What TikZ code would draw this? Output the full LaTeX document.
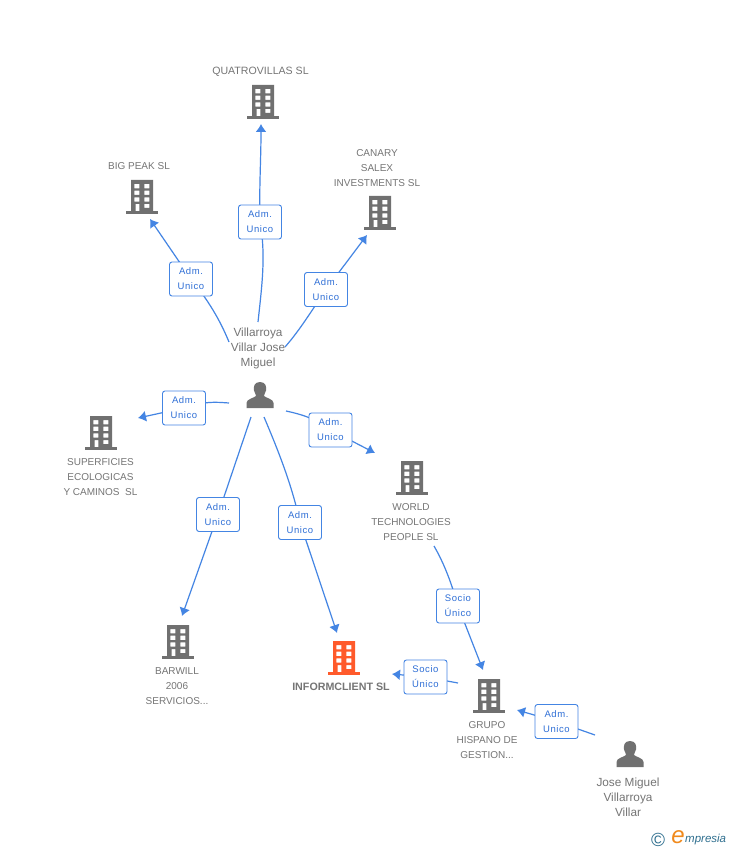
\documentclass[tikz,border=0pt]{standalone}
\usepackage{fontspec}
\setmainfont{Liberation Sans}
\newfontfamily\lblfont[LetterSpace=6]{Liberation Sans}
\usetikzlibrary{arrows.meta,backgrounds}
\definecolor{edgeblue}{HTML}{4485E3}
\definecolor{lbltext}{HTML}{2F6FD6}
\definecolor{icongrey}{HTML}{707070}
\definecolor{txtgrey}{HTML}{757575}
\definecolor{hot}{HTML}{FF5A2B}
\definecolor{logoteal}{HTML}{2F6F8F}
\definecolor{logoorange}{HTML}{F08A1D}
\tikzset{
  tag/.style={draw=edgeblue,line width=0.9pt,fill=white,rounded corners=2.5pt,minimum width=43pt,minimum height=34pt,inner sep=0pt,align=center,text=lbltext,font=\lblfont\fontsize{9.5}{15}\selectfont},
  cap text/.style={text=txtgrey,align=center,inner sep=0pt,font=\fontsize{10}{15}\selectfont},
  cap mixed/.style={cap text,font=\fontsize{11.8}{15}\selectfont},
  edge seg/.style={draw=edgeblue,line width=1.2pt},
  edge tip/.style={draw=edgeblue,line width=1.2pt,-{Latex[length=8pt,width=11pt]}}
}
\newcommand{\bldg}[3][icongrey]{%
  \begin{scope}[shift={(#2)}]
    \coordinate (#3) at (0,0);
    \fill[#1,even odd rule] (-11,-17) rectangle (11,15)
      (-7.6,-13) rectangle (-2.6,-8.7) (2.4,-13) rectangle (7.4,-8.7)
      (-7.6,-6.3) rectangle (-2.6,-2) (2.4,-6.3) rectangle (7.4,-2)
      (-7.6,0.3) rectangle (-2.6,4.7) (2.4,0.3) rectangle (7.4,4.7)
      (-6.5,7) rectangle (-2.6,15) (2.4,7) rectangle (7.4,11);
    \fill[#1] (-16,14) rectangle (16,17);
  \end{scope}}
\newcommand{\persona}[2]{%
  \begin{scope}[shift={(#1)}]
    \coordinate (#2) at (0,0);
    \fill[icongrey] (0,-13) .. controls (6,-13) and (6.5,-8) .. (6,-4.5)
      .. controls (5.5,-1.5) and (3.5,-0.5) .. (4,1) .. controls (6,3) and (13.5,4) .. (13.5,8)
      .. controls (13.5,10) and (13.5,12) .. (13.5,13) -- (-13.5,13)
      .. controls (-13.5,12) and (-13.5,10) .. (-13.5,8)
      .. controls (-13.5,4) and (-6,3) .. (-4,1) .. controls (-3.5,-0.5) and (-5.5,-1.5) .. (-6,-4.5)
      .. controls (-6.5,-8) and (-6,-13) .. (0,-13) -- cycle;
  \end{scope}}
\begin{document}
\begin{tikzpicture}[x=1pt,y=-1pt]
\useasboundingbox (0,0) rectangle (728,850);
\begin{scope}[on background layer]
  \fill[white] (0,0) rectangle (728,850);
\end{scope}
% buildings and persons
\bldg{263,102}{quatro}
\bldg{142,197}{bigpeak}
\bldg{380,213}{canary}
\bldg{101,433}{superf}
\bldg{412,478}{world}
\bldg{178,642}{barwill}
\bldg[hot]{344,658}{inform}
\bldg{489,696}{grupo}
\persona{260,395}{villar}
\persona{630,754}{jose}
% captions
\node[cap text,font=\fontsize{10.6}{15}\selectfont] (tquatro) at (260.5,71.5) {QUATROVILLAS SL};
\node[cap text] (tbig) at (139,166.5) {BIG PEAK SL};
\node[cap text] (tcanary) at (377,168) {CANARY\\SALEX\\INVESTMENTS SL};
\node[cap mixed] (tvillar) at (258,348.5) {Villarroya\\Villar Jose\\Miguel};
\node[cap text] (tsuperf) at (100.5,477.5) {SUPERFICIES\\ECOLOGICAS\\Y CAMINOS\ \ SL};
\node[cap text] (tworld) at (411,522.5) {WORLD\\TECHNOLOGIES\\PEOPLE SL};
\node[cap text] (tbarwill) at (177,686.5) {BARWILL\\2006\\SERVICIOS...};
\node[cap text,font=\fontsize{10.7}{15}\selectfont\bfseries] (tinform) at (341,687) {INFORMCLIENT SL};
\node[cap text] (tgrupo) at (487,740.5) {GRUPO\\HISPANO DE\\GESTION...};
\node[cap mixed] (tjose) at (628,797.5) {Jose Miguel\\Villarroya\\Villar};
% connector labels
\node[tag] (l1) at (260,222) {Adm.\\Unico};
\node[tag] (l2) at (191,279) {Adm.\\Unico};
\node[tag] (l3) at (326,289.5) {Adm.\\Unico};
\node[tag] (l4) at (184,408) {Adm.\\Unico};
\node[tag] (l5) at (330.5,430) {Adm.\\Unico};
\node[tag] (l6) at (218,514.5) {Adm.\\Unico};
\node[tag] (l7) at (300,522.5) {Adm.\\Unico};
\node[tag] (l8) at (458,606) {Socio\\Único};
\node[tag] (l9) at (425.5,677) {Socio\\Único};
\node[tag] (l10) at (556.5,721.5) {Adm.\\Unico};
% connector ends
\coordinate (s1) at (258,322); \coordinate (t1) at (261,124);
\coordinate (s2) at (229,342); \coordinate (t2) at (150,219);
\coordinate (s3) at (285,347); \coordinate (t3) at (367,235);
\coordinate (s4) at (229,403); \coordinate (t4) at (138,418);
\coordinate (s5) at (286,411); \coordinate (t5) at (375,453);
\coordinate (s6) at (251,417); \coordinate (t6) at (182,616);
\coordinate (s7) at (264,417); \coordinate (t7) at (337,633);
\coordinate (s8) at (434,546); \coordinate (t8) at (483,670);
\coordinate (s9) at (458,683); \coordinate (t9) at (392,674);
\coordinate (s10) at (595,735); \coordinate (t10) at (517,710);
\begin{scope}[on background layer]
  \path[edge seg] (s1) .. controls (262,285) and (266,255) .. (l1.center);
  \path[edge tip] (l1.center) .. controls (259,190) and (261,160) .. (t1);
  \path[edge seg] (s2) .. controls (222,325) and (212,305) .. (l2.center);
  \path[edge tip] (l2.center) -- (t2);
  \path[edge seg] (s3) .. controls (300,330) and (312,310) .. (l3.center);
  \path[edge tip] (l3.center) -- (t3);
  \path[edge seg] (s4) .. controls (215,402) and (205,401) .. (l4.center);
  \path[edge tip] (l4.center) -- (t4);
  \path[edge seg] (s5) .. controls (300,414) and (315,418) .. (l5.center);
  \path[edge tip] (l5.center) -- (t5);
  \path[edge seg] (s6) -- (l6.center);
  \path[edge tip] (l6.center) -- (t6);
  \path[edge seg] (s7) .. controls (278,450) and (292,485) .. (l7.center);
  \path[edge tip] (l7.center) -- (t7);
  \path[edge seg] (s8) .. controls (445,565) and (452,585) .. (l8.center);
  \path[edge tip] (l8.center) -- (t8);
  \path[edge seg] (s9) -- (l9.center);
  \path[edge tip] (l9.center) -- (t9);
  \path[edge seg] (s10) -- (l10.center);
  \path[edge tip] (l10.center) -- (t10);
\end{scope}
% logo
\node[inner sep=0pt,text=logoteal,font=\fontsize{19}{19}\selectfont] (logoc) at (658,840) {©};
\node[inner sep=0pt,text=logoorange,font=\fontsize{24}{24}\selectfont\itshape] (logoe) at (678,837) {e};
\node[inner sep=0pt,text=logoteal,anchor=west,font=\fontsize{11.5}{12}\selectfont\itshape] (logot) at (685,840) {mpresia};
\end{tikzpicture}
\end{document}
